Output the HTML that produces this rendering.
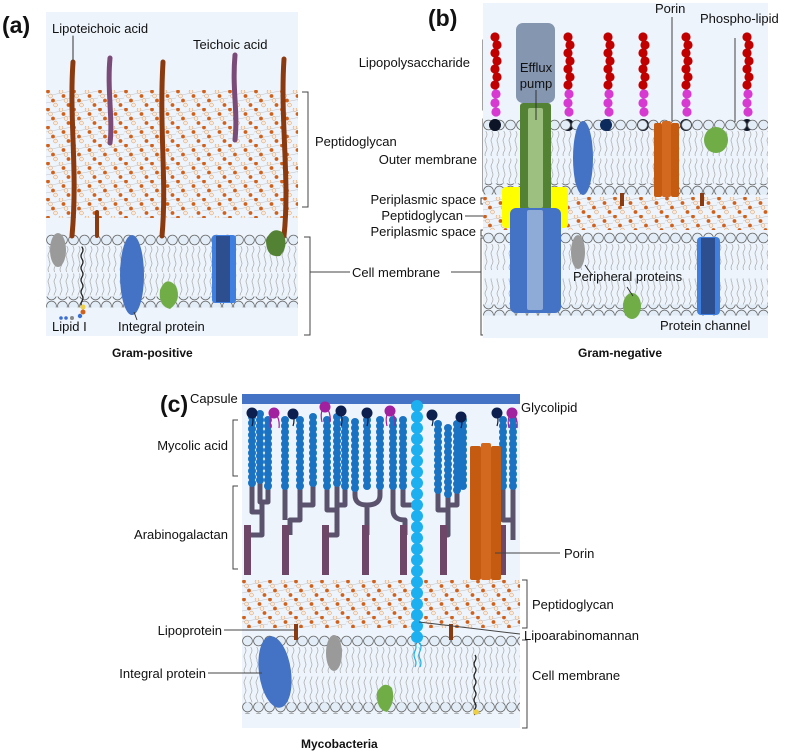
<!DOCTYPE html>
<html><head><meta charset="utf-8"><style>
html,body{margin:0;padding:0;background:#fff}
svg{display:block}
text{font-family:"Liberation Sans",Arial,sans-serif;font-size:13px;fill:#111}
.b{font-weight:bold}
</style></head><body>
<svg width="789" height="752" viewBox="0 0 789 752" xmlns="http://www.w3.org/2000/svg">
<defs>
<pattern id="pg" width="26" height="18" patternUnits="userSpaceOnUse">
<path d="M0 6 L26 1 M0 13 L26 8" stroke="#c0c0c0" stroke-width="0.5" fill="none"/>
<g stroke-width="0.6">
<circle cx="2" cy="1.5" r="1.9" fill="#d0601a"/>
<circle cx="4.5" cy="6" r="1.9" fill="#fde9d6" stroke="#d4a880"/>
<circle cx="7" cy="10.5" r="1.9" fill="#d0601a"/>
<circle cx="9.5" cy="15" r="1.9" fill="#fde9d6" stroke="#d4a880"/>
<circle cx="15" cy="1.5" r="1.9" fill="#fde9d6" stroke="#d4a880"/>
<circle cx="17.5" cy="6" r="1.9" fill="#d0601a"/>
<circle cx="20" cy="10.5" r="1.9" fill="#fde9d6" stroke="#d4a880"/>
<circle cx="22.5" cy="15" r="1.9" fill="#d0601a"/>
</g>
</pattern>
<pattern id="heads" width="11" height="11" patternUnits="userSpaceOnUse">
<circle cx="5.5" cy="5.5" r="4.9" fill="#e2edf7" stroke="#666" stroke-width="0.8"/>
</pattern>
<pattern id="tails" width="6" height="26" patternUnits="userSpaceOnUse">
<path d="M3 0 q2 3 0 6 q-2 3 0 6 q2 3 0 6 q-2 3 0 6 l0 2" stroke="#9a9a9a" stroke-width="0.6" fill="none"/>
</pattern>
<g id="lps">
<circle cx="0" cy="0" r="4.6" fill="#c00000"/><circle cx="2" cy="8" r="4.6" fill="#c00000"/>
<circle cx="0" cy="16" r="4.6" fill="#c00000"/><circle cx="2" cy="24" r="4.6" fill="#c00000"/>
<circle cx="0" cy="32" r="4.6" fill="#c00000"/><circle cx="2" cy="40" r="4.6" fill="#c00000"/>
<circle cx="0" cy="48" r="4.6" fill="#c00000"/>
<circle cx="1" cy="57" r="4.6" fill="#d63ad0"/><circle cx="0" cy="66" r="4.6" fill="#d63ad0"/>
<circle cx="1" cy="75" r="4.6" fill="#d63ad0"/>
<circle cx="0" cy="88" r="6" fill="#0d1426"/>
</g>
<g id="myc">
<circle cx="0" cy="0" r="4" fill="#1a73c2"/><circle cx="0" cy="6" r="4" fill="#1a73c2"/>
<circle cx="0" cy="12" r="4" fill="#1a73c2"/><circle cx="0" cy="18" r="4" fill="#1a73c2"/>
<circle cx="0" cy="24" r="4" fill="#1a73c2"/><circle cx="0" cy="30" r="4" fill="#1a73c2"/>
<circle cx="0" cy="36" r="4" fill="#1a73c2"/><circle cx="0" cy="42" r="4" fill="#1a73c2"/>
<circle cx="0" cy="48" r="4" fill="#1a73c2"/><circle cx="0" cy="54" r="4" fill="#1a73c2"/>
<circle cx="0" cy="60" r="4" fill="#1a73c2"/><circle cx="0" cy="66" r="4" fill="#1a73c2"/>
</g>
</defs>

<!-- ============ PANEL A ============ -->
<rect x="46" y="12" width="252" height="324" fill="#edf4fb"/>
<g transform="translate(46,90)"><rect width="252" height="128" fill="url(#pg)"/></g>
<g transform="translate(46,234.5)">
<rect x="0" y="0" width="252" height="11" fill="url(#heads)"/>
<rect x="0" y="11.5" width="252" height="26" fill="url(#tails)"/>
<rect x="0" y="39" width="252" height="22" fill="url(#tails)"/>
<rect x="0" y="62" width="252" height="11" fill="url(#heads)"/>
</g>
<g fill="none" stroke-linecap="round">
<path d="M73 62 C69 120 78 170 72 236" stroke="#8b3a0f" stroke-width="5"/>
<path d="M163 62 C159 130 167 180 162 236" stroke="#8b3a0f" stroke-width="5"/>
<path d="M284 59 C280 120 290 180 284 236" stroke="#8b3a0f" stroke-width="5"/>
<path d="M110 58 C107 90 113 120 110 143" stroke="#7a4a78" stroke-width="5"/>
<path d="M235 55 C232 90 238 110 235 140" stroke="#7a4a78" stroke-width="5"/>
<path d="M97 212 L97 236" stroke="#8b3a0f" stroke-width="4"/>
<path d="M73 36 L73 60" stroke="#333" stroke-width="1"/>
<path d="M82 247 q2 3 0 6 q-2 3 0 6 q2 3 0 6 q-2 3 0 6 q2 3 0 6 q-2 3 0 6 q2 3 0 6 q-2 3 0 6 q2 3 0 6 q-2 3 0 6" stroke="#222" stroke-width="1.3"/>
</g>
<ellipse cx="58" cy="250" rx="8" ry="17" fill="#9a9a9a"/>
<circle cx="83" cy="307" r="2.5" fill="#f0d040"/><circle cx="83" cy="312" r="2.5" fill="#d0601a"/>
<circle cx="80" cy="316" r="2.2" fill="#3a6fd1"/><circle cx="72" cy="318" r="2" fill="#888"/>
<circle cx="66" cy="318" r="1.8" fill="#3a6fd1"/><circle cx="61" cy="318" r="1.8" fill="#3a6fd1"/>
<ellipse cx="132" cy="275" rx="12" ry="40" fill="#4472c4"/>
<path d="M134 312 L137 320" stroke="#333" stroke-width="1"/>
<path d="M160 290 Q166 275 176 286 Q182 300 170 309 Q158 306 160 290Z" fill="#70ad47"/>
<rect x="212" y="235" width="24" height="68" rx="3" fill="#3f7fe0"/>
<rect x="216" y="236" width="14" height="66" fill="#2d4f90"/>
<path d="M266 240 Q272 226 282 232 Q290 245 280 256 Q266 258 266 240Z" fill="#548235"/>
<text x="52" y="33">Lipoteichoic acid</text>
<text x="193" y="49">Teichoic acid</text>
<text x="52" y="331">Lipid I</text>
<text x="118" y="331">Integral protein</text>
<text x="2" y="33" class="b" style="font-size:23px">(a)</text>
<text x="112" y="357" class="b" style="font-size:12px">Gram-positive</text>
<g stroke="#444" stroke-width="1" fill="none">
<path d="M302 92 H308 V207 H302"/>
<path d="M304 237 H310 V335 H304"/>
<path d="M310 272 H350 M451 272 H481"/>
<path d="M487 40 H483 V110 H487"/>
<path d="M487 119 H483 V191 H487"/>
<path d="M485 198 H481 V204 H485"/>
<path d="M485 230 H481 V236 H485"/>
<path d="M465 216 H487"/>
<path d="M486 238 H481 V335 H486"/>
</g>
<text x="315" y="146">Peptidoglycan</text>
<text x="352" y="277">Cell membrane</text>

<!-- ============ PANEL B ============ -->
<rect x="483" y="3" width="285" height="335" fill="#edf4fb"/>
<use href="#lps" x="495" y="37"/>
<use href="#lps" x="568" y="37"/>
<use href="#lps" x="608" y="37"/>
<use href="#lps" x="643" y="37"/>
<use href="#lps" x="686" y="37"/>
<use href="#lps" x="747" y="37"/>
<g transform="translate(483,119.5)">
<rect x="0" y="0" width="285" height="11" fill="url(#heads)"/>
<rect x="0" y="11.5" width="285" height="25" fill="url(#tails)"/>
<rect x="0" y="39" width="285" height="25" fill="url(#tails)"/>
<rect x="0" y="64" width="285" height="11" fill="url(#heads)"/>
</g>
<g transform="translate(483,197)"><rect width="285" height="33" fill="url(#pg)"/></g>
<g transform="translate(483,232.5)">
<rect x="0" y="0" width="285" height="11" fill="url(#heads)"/>
<rect x="0" y="11.5" width="285" height="26" fill="url(#tails)"/>
<rect x="0" y="46" width="285" height="26" fill="url(#tails)"/>
<rect x="0" y="72" width="285" height="11" fill="url(#heads)"/>
</g>
<circle cx="495" cy="125" r="6" fill="#0d1426"/>
<circle cx="606" cy="125" r="6" fill="#0d2a5c"/>
<!-- efflux -->
<rect x="502" y="187" width="66" height="41" rx="4" fill="#ffff00"/>
<rect x="520" y="103" width="31" height="107" rx="3" fill="#548235"/>
<rect x="528" y="108" width="15" height="100" rx="2" fill="#9dbf80"/>
<rect x="510" y="208" width="51" height="105" rx="6" fill="#4472c4"/>
<rect x="527" y="210" width="16" height="100" rx="2" fill="#8eaad6"/>
<rect x="516" y="23" width="39" height="80" rx="7" fill="#8496b0"/>
<path d="M536 90 V120" stroke="#333" stroke-width="1"/>
<text x="536" y="72" text-anchor="middle">Efflux</text>
<text x="536" y="88" text-anchor="middle">pump</text>
<ellipse cx="583" cy="158" rx="10" ry="37" fill="#4472c4"/>
<rect x="654" y="123" width="8" height="74" rx="2" fill="#c55a11"/>
<rect x="662" y="121" width="9" height="76" rx="2" fill="#d2691e"/>
<rect x="671" y="123" width="8" height="74" rx="2" fill="#c55a11"/>
<path d="M672 17 V121 M735 38 V122" stroke="#444" stroke-width="1"/>
<ellipse cx="716" cy="140" rx="12" ry="13" fill="#70ad47"/>
<path d="M622 193 V206 M702 193 V206" stroke="#8b3a0f" stroke-width="4"/>
<ellipse cx="578" cy="252" rx="7" ry="17" fill="#9a9a9a"/>
<ellipse cx="632" cy="306" rx="9" ry="13" fill="#70ad47"/>
<path d="M585 265 L592 275 M627 287 L633 296" stroke="#333" stroke-width="1"/>
<rect x="697" y="237" width="23" height="78" rx="4" fill="#3f7fe0"/>
<rect x="701" y="238" width="14" height="76" fill="#2d4f90"/>
<text x="655" y="13">Porin</text>
<text x="700" y="23">Phospho-lipid</text>
<text x="573" y="281">Peripheral proteins</text>
<text x="660" y="330">Protein channel</text>
<text x="470" y="67" text-anchor="end">Lipopolysaccharide</text>
<text x="477" y="164" text-anchor="end">Outer membrane</text>
<text x="476" y="204" text-anchor="end">Periplasmic space</text>
<text x="463" y="220" text-anchor="end">Peptidoglycan</text>
<text x="476" y="236" text-anchor="end">Periplasmic space</text>
<text x="428" y="26" class="b" style="font-size:23px">(b)</text>
<text x="578" y="357" class="b" style="font-size:12px">Gram-negative</text>

<!-- ============ PANEL C ============ -->
<rect x="242" y="403" width="278" height="325" fill="#edf4fb"/>
<rect x="242" y="394" width="278" height="10" fill="#4472c4"/>
<g transform="translate(242,580)"><rect width="278" height="48" fill="url(#pg)"/></g>
<g transform="translate(242,635.5)">
<rect x="0" y="0" width="278" height="11" fill="url(#heads)"/>
<rect x="0" y="11.5" width="278" height="26" fill="url(#tails)"/>
<rect x="0" y="41" width="278" height="26" fill="url(#tails)"/>
<rect x="0" y="67" width="278" height="11" fill="url(#heads)"/>
</g>
<!-- arabinogalactan trees -->
<g stroke="#5b536e" stroke-width="5" fill="none" stroke-linejoin="round">
<path d="M252 480 V512 H262 M260 480 V502 H268 V480 M262 502 V535 H250"/>
<path d="M285 480 V520 M300 480 V505 H313 V480 M300 505 V520 H290 V535"/>
<path d="M327 480 V510 H337 V480 M345 480 V505 H337 V535 H328"/>
<path d="M355 480 V495 Q355 505 367 505 V535 M380 480 V495 Q380 505 367 505"/>
<path d="M393 480 V510 Q393 520 405 520 V535 M403 480 V505 H413"/>
<path d="M438 480 V510 H448 V480 M457 480 V505 H448 V535 H445"/>
<path d="M503 480 V520 H513 V480 M513 500 V540"/>
</g>
<g fill="#6e4668">
<rect x="244" y="525" width="7" height="50"/><rect x="282" y="525" width="7" height="50"/>
<rect x="322" y="525" width="7" height="50"/><rect x="362" y="525" width="7" height="50"/>
<rect x="400" y="525" width="7" height="50"/><rect x="440" y="525" width="7" height="50"/>
<rect x="499" y="525" width="7" height="50"/>
</g>
<g>
<use href="#myc" x="252" y="417"/><use href="#myc" x="260" y="414"/><use href="#myc" x="268" y="420"/>
<use href="#myc" x="285" y="420"/><use href="#myc" x="300" y="420"/><use href="#myc" x="313" y="417"/>
<use href="#myc" x="327" y="420"/><use href="#myc" x="337" y="417"/><use href="#myc" x="345" y="420"/>
<use href="#myc" x="355" y="422"/><use href="#myc" x="367" y="420"/><use href="#myc" x="380" y="420"/>
<use href="#myc" x="393" y="420"/><use href="#myc" x="403" y="420"/>
<use href="#myc" x="438" y="424"/><use href="#myc" x="448" y="428"/><use href="#myc" x="457" y="424"/>
<use href="#myc" x="463" y="420"/>
<use href="#myc" x="503" y="420"/><use href="#myc" x="513" y="420"/>
</g>
<!-- porin c -->
<rect x="470" y="446" width="11" height="134" rx="2" fill="#c55a11"/>
<rect x="481" y="443" width="10" height="137" rx="2" fill="#d2691e"/>
<rect x="491" y="446" width="10" height="134" rx="2" fill="#c55a11"/>
<!-- LAM -->
<g fill="#1cb0f0">
<circle cx="417" cy="406" r="6"/><circle cx="417" cy="417" r="6"/><circle cx="417" cy="428" r="6"/>
<circle cx="417" cy="439" r="6"/><circle cx="417" cy="450" r="6"/><circle cx="417" cy="461" r="6"/>
<circle cx="417" cy="472" r="6"/><circle cx="417" cy="483" r="6"/><circle cx="417" cy="494" r="6"/>
<circle cx="417" cy="505" r="6"/><circle cx="417" cy="516" r="6"/><circle cx="417" cy="527" r="6"/>
<circle cx="417" cy="538" r="6"/><circle cx="417" cy="549" r="6"/><circle cx="417" cy="560" r="6"/>
<circle cx="417" cy="571" r="6"/><circle cx="417" cy="582" r="6"/><circle cx="417" cy="593" r="6"/>
<circle cx="417" cy="604" r="6"/><circle cx="417" cy="615" r="6"/><circle cx="417" cy="626" r="6"/>
<circle cx="417" cy="637" r="6"/>
</g>
<path d="M415 643 q2 4 0 8 q-2 4 0 8 q2 4 0 8 M420 643 q2 4 0 8 q-2 4 0 8 q2 4 0 8" stroke="#1cb0f0" stroke-width="1.2" fill="none"/>
<!-- glycolipids -->
<g stroke="#0d1a40" stroke-width="1.2" fill="none">
<path d="M252 414 q2 6 0 12 M293 414 q2 6 0 12 M341 414 q2 6 0 12 M367 414 q2 6 0 12 M432 414 q2 6 0 12 M461 416 q2 6 0 12 M497 414 q2 6 0 12"/>
</g>
<g stroke="#a020a0" stroke-width="1.2" fill="none">
<path d="M272 414 q-3 6 -1 14 M276 414 q4 6 3 14 M323 408 q-3 6 -1 14 M327 408 q4 6 3 14 M388 412 q-3 6 -1 14 M392 412 q4 6 3 14 M510 414 q-3 6 -1 14 M514 414 q4 6 3 14"/>
</g>
<g fill="#0d1f4f">
<circle cx="252" cy="413" r="5.5"/><circle cx="293" cy="414" r="5.5"/><circle cx="341" cy="411" r="5.5"/>
<circle cx="367" cy="413" r="5.5"/><circle cx="432" cy="415" r="5.5"/><circle cx="461" cy="417" r="5.5"/>
<circle cx="497" cy="413" r="5.5"/>
</g>
<g fill="#a020a0">
<circle cx="274" cy="413" r="5.5"/><circle cx="325" cy="407" r="5.5"/><circle cx="390" cy="411" r="5.5"/><circle cx="512" cy="413" r="5.5"/>
</g>
<path d="M296 624 V640 M451 624 V640" stroke="#8b3a0f" stroke-width="4"/>
<ellipse cx="275" cy="672" rx="16" ry="36" fill="#4472c4" transform="rotate(-8 275 672)"/>
<ellipse cx="334" cy="653" rx="8" ry="18" fill="#9a9a9a"/>
<path d="M377 692 Q384 680 392 688 Q396 702 387 712 Q376 710 377 692Z" fill="#70ad47"/>
<path d="M475 655 q2 3 0 6 q-2 3 0 6 q2 3 0 6 q-2 3 0 6 q2 3 0 6 q-2 3 0 6 q2 3 0 6 q-2 3 0 6 q2 3 0 6 q-2 3 0 6" stroke="#222" stroke-width="1.3" fill="none"/>
<circle cx="476" cy="712" r="2.8" fill="#f0d040"/>
<g stroke="#444" stroke-width="1" fill="none">
<path d="M238 420 H233 V476 H238"/>
<path d="M238 486 H233 V569 H238"/>
<path d="M522 580 H527 V628 H522"/>
<path d="M522 640 H527 V728 H522"/>
<path d="M224 630 H296 M208 673 H262 M495 553 H560 M419 622 L520 634"/>
</g>
<text x="160" y="412" class="b" style="font-size:23px">(c)</text>
<text x="190" y="403">Capsule</text>
<text x="521" y="412">Glycolipid</text>
<text x="228" y="450" text-anchor="end">Mycolic acid</text>
<text x="228" y="539" text-anchor="end">Arabinogalactan</text>
<text x="564" y="558">Porin</text>
<text x="532" y="609">Peptidoglycan</text>
<text x="222" y="635" text-anchor="end">Lipoprotein</text>
<text x="524" y="640">Lipoarabinomannan</text>
<text x="206" y="678" text-anchor="end">Integral protein</text>
<text x="532" y="680">Cell membrane</text>
<text x="301" y="748" class="b" style="font-size:12px">Mycobacteria</text>
</svg>
</body></html>
